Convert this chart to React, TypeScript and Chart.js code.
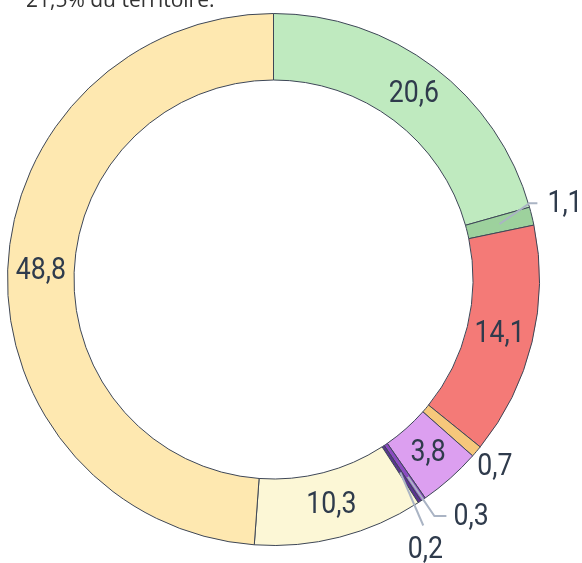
import React, { useEffect, useRef } from "react";
import { Chart, registerables } from "chart.js";

Chart.register(...registerables);

const categories = ["A", "B", "C", "D", "E", "F", "G", "H", "I"];
const values = [20.6, 1.1, 14.1, 0.7, 3.8, 0.3, 0.2, 10.3, 48.8];
const colors = ["#bfeabf", "#9dd19d", "#f47a77", "#f6c77b", "#dc9ff0", "#8a4cc0", "#5a3490", "#fcf7d6", "#fee8b0"];
const titleText = "21,5% du territoire.";

const TEXT = "#2f3b4c";
const LEADER = "#aab4c4";

function fmt(v: number) {
  return v.toFixed(1).replace(".", ",");
}

const labelPlugin = {
  id: "labels",
  afterDatasetsDraw(chart: any) {
    const ctx = chart.ctx as CanvasRenderingContext2D;
    const meta = chart.getDatasetMeta(0);
    const data = chart.data.datasets[0].data as number[];
    const drawText = (t: string, x: number, y: number, align: CanvasTextAlign) => {
      ctx.save();
      ctx.translate(x, y);
      ctx.scale(0.86, 1);
      ctx.font = "31px Roboto";
      ctx.fillStyle = TEXT;
      ctx.textAlign = align;
      ctx.textBaseline = "middle";
      ctx.fillText(t, 0, 0);
      ctx.restore();
    };
    const line = (pts: number[][]) => {
      ctx.save();
      ctx.strokeStyle = LEADER;
      ctx.lineWidth = 2;
      ctx.beginPath();
      ctx.moveTo(pts[0][0], pts[0][1]);
      for (let i = 1; i < pts.length; i++) ctx.lineTo(pts[i][0], pts[i][1]);
      ctx.stroke();
      ctx.restore();
    };
    meta.data.forEach((arc: any, i: number) => {
      const { x, y, startAngle, endAngle, innerRadius, outerRadius } = arc.getProps(
        ["x", "y", "startAngle", "endAngle", "innerRadius", "outerRadius"],
        true
      );
      const mid = (startAngle + endAngle) / 2;
      const rm = (innerRadius + outerRadius) / 2;
      const at = (r: number, a: number) => [x + r * Math.cos(a), y + r * Math.sin(a)];
      const v = data[i];
      const t = fmt(v);
      const deg = Math.PI / 180;
      if (v >= 2) {
        const p = at(rm, mid);
        drawText(t, p[0], p[1], "center");
      } else if (i === 1) {
        const p0 = at(rm, mid);
        const p1 = at(outerRadius + 1, mid - 2.8 * deg);
        const p2 = [p1[0] + 8, p1[1]];
        line([p0, p1, p2]);
        drawText(t, p2[0] + 10, p2[1] + 1, "left");
      } else if (i === 3) {
        const p = at(outerRadius + 24, mid);
        drawText(t, p[0], p[1], "center");
      } else if (i === 5) {
        const p0 = at(rm + 6, mid);
        const p1 = at(outerRadius + 20, mid);
        const p2 = [p1[0] + 12, p1[1]];
        line([p0, p1, p2]);
        drawText(t, p2[0] + 7, p2[1] + 1, "left");
      } else if (i === 6) {
        const p0 = at(rm - 2, mid);
        const p1 = at(outerRadius + 22, mid + 2 * deg);
        line([p0, p1]);
        drawText(t, p1[0] + 2, p1[1] + 25, "center");
      }
    });
    // title line (cut off at top)
    ctx.save();
    ctx.font = "21px 'Open Sans'";
    ctx.fillStyle = "#333333";
    ctx.textAlign = "left";
    ctx.textBaseline = "alphabetic";
    ctx.fillText(titleText, 26, 7);
    ctx.restore();
  },
};

export default function App() {
  const ref = useRef<HTMLCanvasElement | null>(null);
  useEffect(() => {
    if (!ref.current) return;
    const chart = new Chart(ref.current, {
      type: "doughnut",
      data: {
        labels: categories,
        datasets: [
          {
            data: values,
            backgroundColor: colors,
            borderColor: "#3d4656",
            borderWidth: 1,
          },
        ],
      },
      options: {
        responsive: false,
        animation: false,
        cutout: "75%",
        layout: { padding: { left: 7, right: 42, top: 13, bottom: 17 } },
        plugins: { legend: { display: false }, tooltip: { enabled: false }, title: { display: false } },
      },
      plugins: [labelPlugin],
    });
    return () => chart.destroy();
  }, []);
  return (
    <div style={{ position: "absolute", left: 0, top: 0, width: 582, height: 563, background: "#fff" }}>
      <canvas ref={ref} width={582} height={563} style={{ display: "block" }} />
    </div>
  );
}
